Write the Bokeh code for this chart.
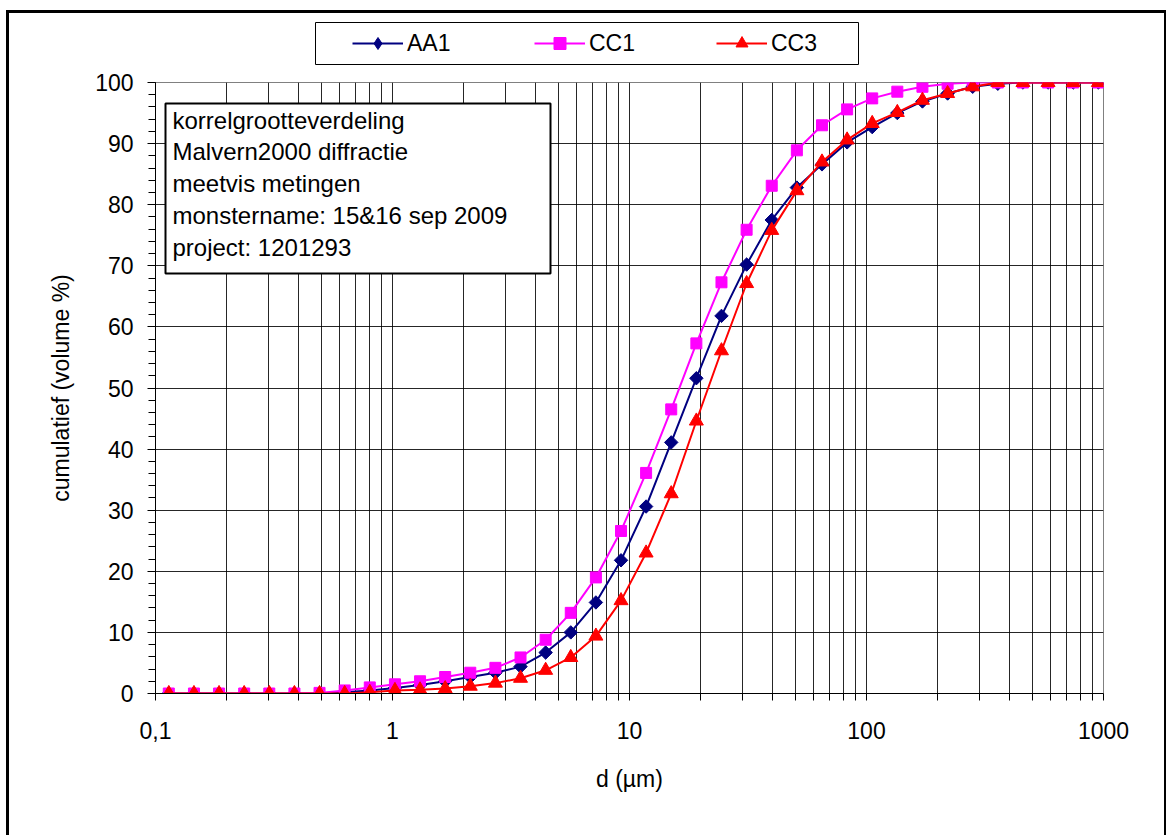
import math
from bokeh.plotting import figure
from bokeh.layouts import column
from bokeh.models import (Range1d, FixedTicker, SingleIntervalTicker, Legend,
                          LegendItem, Label, BoxAnnotation)
from bokeh.embed import file_html
from bokeh.resources import INLINE

# ---- data ----
x_um = [0.1138, 0.1453, 0.1854, 0.2367, 0.3021, 0.3856, 0.4922, 0.6283, 0.8020,
        1.024, 1.307, 1.668, 2.129, 2.718, 3.469, 4.428, 5.652, 7.215, 9.209,
        11.75, 15.00, 19.15, 24.44, 31.20, 39.83, 50.84, 64.89, 82.83, 105.7,
        134.9, 172.2, 219.9, 280.6, 358.2, 457.2, 583.6, 745.0, 951.0]
aa1 = [0, 0, 0, 0, 0, 0, 0.05, 0.2, 0.5, 0.9, 1.4, 2.0, 2.7, 3.4, 4.4, 6.7, 10.0,
       14.9, 21.8, 30.6, 41.1, 51.6, 61.8, 70.2, 77.5, 82.8, 86.6, 90.2, 92.7,
       95.0, 96.9, 98.2, 99.3, 99.8, 100, 100, 100, 100]
cc1 = [0, 0, 0, 0, 0, 0, 0.1, 0.5, 1.0, 1.5, 2.0, 2.7, 3.4, 4.2, 5.9, 8.8, 13.2,
       19.0, 26.6, 36.1, 46.5, 57.3, 67.3, 75.9, 83.1, 88.9, 93.0, 95.6, 97.4,
       98.5, 99.3, 99.8, 100, 100, 100, 100, 100, 100]
cc3 = [0, 0, 0, 0, 0, 0, 0, 0, 0.2, 0.5, 0.6, 0.8, 1.2, 1.7, 2.5, 3.8, 5.9, 9.4,
       15.2, 23.0, 32.7, 44.6, 56.1, 67.1, 75.8, 82.3, 87.0, 90.6, 93.3, 95.1,
       97.1, 98.2, 99.3, 100, 100, 100, 100, 100]
series_names = ["AA1", "CC1", "CC3"]
x_tick_values = [0.1, 1, 10, 100, 1000]
x_tick_labels = ["0,1", "1", "10", "100", "1000"]
info_lines = ["korrelgrootteverdeling", "Malvern2000 diffractie", "meetvis metingen",
              "monstername: 15&16 sep 2009", "project: 1201293"]

FONT = "Liberation Sans"
# whole chart placed at page offset (OX, OY) inside a CSS border
OX, OY = 9, 13
W, H = 1155, 822
HT = 53                       # height of the legend strip
H2 = H - HT                   # height of the main figure
FL = 155 - OX
FR = W - (1103 - OX)
FT = (82 - OY) - HT
FB = H2 - (693 - OY - HT)
PX0 = 155                     # page x of the (aligned) frame left edge

colors = ["#000080", "#FF00FF", "#FF0000"]
series = [aa1, cc1, cc3]

# ---------------- legend strip ----------------
pl = figure(width=W, height=HT, x_range=Range1d(0.1, 1000), x_axis_type="log",
            y_range=Range1d(-20, -10),
            output_backend="svg", toolbar_location=None,
            x_axis_location=None, y_axis_location=None,
            min_border=0, min_border_left=FL, min_border_right=FR,
            min_border_top=0, min_border_bottom=0)
pl.outline_line_color = None
pl.xgrid.visible = False
pl.ygrid.visible = False
pl.background_fill_color = "white"
pl.border_fill_color = "white"

legend_markers = ["diamond", "square", "triangle"]
items = []
for name, col, ys, mk in zip(series_names, colors, series, legend_markers):
    # same series, outside this strip's y range: only its legend glyph shows
    lr = pl.line(x_um, ys, line_color=col, line_width=2)
    sr = pl.scatter(x_um, ys, marker=mk, size=12, fill_color=col, line_color=col)
    items.append(LegendItem(label=name, renderers=[lr, sr]))

legend_box = BoxAnnotation(left=315 - PX0, right=858 - PX0,
                           top=HT - (22 - OY), bottom=HT - (64 - OY),
                           left_units="screen", right_units="screen",
                           top_units="screen", bottom_units="screen",
                           fill_color="white", fill_alpha=1.0,
                           line_color="black", line_alpha=1.0, line_width=1)
pl.add_layout(legend_box)
legend = Legend(items=items, orientation="horizontal",
                location=(352 - PX0, HT - (58 - OY)),
                glyph_width=51, glyph_height=30, label_height=30,
                label_width=100, label_standoff=4, spacing=27,
                padding=0, margin=0,
                border_line_color=None, background_fill_alpha=0,
                label_text_font=FONT, label_text_font_size="23px",
                label_text_color="black")
pl.add_layout(legend)

# ---------------- main chart ----------------
p = figure(width=W, height=H2, x_axis_type="log",
           x_range=Range1d(0.1, 1000), y_range=Range1d(0, 100),
           output_backend="svg", toolbar_location=None,
           min_border_left=FL, min_border_right=FR,
           min_border_top=FT, min_border_bottom=FB)
p.background_fill_color = "white"
p.border_fill_color = "white"
p.outline_line_color = "#808080"
p.outline_line_width = 1

minor = [m * 10 ** e for e in (-1, 0, 1, 2) for m in range(2, 10)]
p.xaxis.ticker = FixedTicker(ticks=x_tick_values, minor_ticks=minor)
p.xaxis.major_label_overrides = dict(zip(x_tick_values, x_tick_labels))
p.xaxis.axis_label = "d (µm)"
p.xaxis.major_tick_out = 7
p.xaxis.major_tick_in = 0
p.xaxis.minor_tick_out = 7
p.xaxis.minor_tick_in = 0
p.xaxis.major_label_standoff = 21
p.xaxis.axis_label_standoff = 24

p.yaxis.ticker = SingleIntervalTicker(interval=10, num_minor_ticks=5)
p.yaxis.axis_label = "cumulatief (volume %)"
p.yaxis.major_tick_out = 8
p.yaxis.major_tick_in = 0
p.yaxis.minor_tick_out = 7
p.yaxis.minor_tick_in = 0
p.yaxis.major_label_standoff = 14
p.yaxis.axis_label_standoff = 18

for ax in (p.xaxis, p.yaxis):
    ax.axis_line_color = "black"
    ax.major_tick_line_color = "black"
    ax.minor_tick_line_color = "black"
    ax.major_label_text_font = FONT
    ax.major_label_text_font_size = "23px"
    ax.major_label_text_color = "black"
    ax.axis_label_text_font = FONT
    ax.axis_label_text_font_size = "23px"
    ax.axis_label_text_font_style = "normal"
    ax.axis_label_text_color = "black"

p.xgrid.grid_line_color = "black"
p.xgrid.grid_line_alpha = 0.85
p.xgrid.minor_grid_line_color = "black"
p.xgrid.minor_grid_line_alpha = 0.85
p.ygrid.grid_line_color = "black"
p.ygrid.grid_line_alpha = 0.85

styles = [
    ("square", 9.5, math.pi / 4),
    ("square", 11, 0),
    ("triangle", 14, 0),
]
for col, ys, (mk, sz, ang) in zip(colors, series, styles):
    p.line(x_um, ys, line_color=col, line_width=2)
    p.scatter(x_um, ys, marker=mk, size=sz, angle=ang,
              fill_color=col, line_color=col)

# info text box (inside the plot area)
info_box = BoxAnnotation(left=165 - 155, right=550 - 155,
                         top=693 - 103, bottom=693 - 273,
                         left_units="screen", right_units="screen",
                         top_units="screen", bottom_units="screen",
                         fill_color="white", fill_alpha=1.0,
                         line_color="black", line_alpha=1.0, line_width=2)
p.add_layout(info_box)
info = Label(x=172 - 155, y=693 - 106, x_units="screen", y_units="screen",
             text="\n".join(info_lines), text_font=FONT,
             text_font_size="24px", text_color="black",
             text_baseline="top", text_align="left", text_line_height=1.18)
p.add_layout(info)

layout = column(pl, p, spacing=0)
layout.styles = {"margin-left": "6px", "margin-top": "10px",
                 "border-left": "3px solid black", "border-top": "3px solid black",
                 "border-right": "2px solid black"}

open("out.html", "w").write(file_html(layout, INLINE))
